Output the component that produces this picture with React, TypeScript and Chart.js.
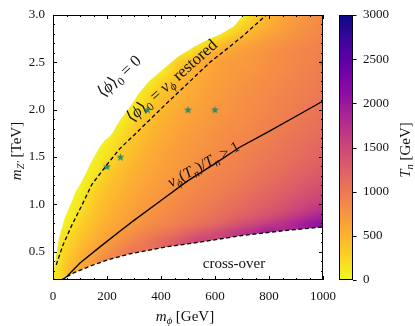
import React, { useEffect, useRef } from "react";
import { Chart, registerables } from "chart.js";

Chart.register(...registerables);

// ---------- data ----------
const xTickValues = [0, 200, 400, 600, 800, 1000];
const yTickValues = [0.5, 1.0, 1.5, 2.0, 2.5, 3.0];
const cbTickValues = [0, 500, 1000, 1500, 2000, 2500, 3000];

// T_n grid (GeV): columns m_phi = 0..1000 step 50, rows m_Z' = 3.0 .. 0.2 step 0.1
const gridMphi = [0, 50, 100, 150, 200, 250, 300, 350, 400, 450, 500, 550, 600, 650, 700, 750, 800, 850, 900, 950, 1000];
const gridMzp = [3.0, 2.9, 2.8, 2.7, 2.6, 2.5, 2.4, 2.3, 2.2, 2.1, 2.0, 1.9, 1.8, 1.7, 1.6, 1.5, 1.4, 1.3, 1.2, 1.1, 1.0, 0.9, 0.8, 0.7, 0.6, 0.5, 0.4, 0.3, 0.2];
const N = null;
const tnGrid: (number | null)[][] = [
  [N, N, N, N, N, N, N, N, N, N, N, N, N, N, 60, 330, 490, 610, 700, 780, 850],
  [N, N, N, N, N, N, N, N, N, N, N, N, N, 60, 230, 420, 540, 640, 720, 800, 870],
  [N, N, N, N, N, N, N, N, N, N, N, N, 60, 230, 400, 530, 630, 700, 770, 830, 890],
  [N, N, N, N, N, N, N, N, N, N, N, 120, 330, 480, 580, 650, 720, 780, 830, 870, 910],
  [N, N, N, N, N, N, N, N, N, N, 150, 400, 540, 620, 680, 730, 780, 830, 870, 910, 940],
  [N, N, N, N, N, N, N, N, 60, 250, 430, 560, 620, 680, 710, 740, 790, 830, 870, 910, 950],
  [N, N, N, N, N, N, N, N, 80, 330, 480, 580, 640, 690, 730, 760, 810, 850, 890, 930, 970],
  [N, N, N, N, N, N, N, 60, 250, 410, 520, 600, 660, 710, 750, 790, 830, 870, 910, 950, 990],
  [N, N, N, N, N, N, 60, 190, 360, 470, 550, 620, 680, 730, 770, 810, 850, 890, 930, 970, 1020],
  [N, N, N, N, N, N, 60, 260, 410, 510, 580, 640, 700, 750, 790, 830, 870, 910, 950, 990, 1040],
  [N, N, N, N, N, 60, 170, 340, 460, 540, 610, 665, 715, 760, 800, 840, 885, 930, 970, 1010, 1060],
  [N, N, N, N, N, 60, 250, 400, 500, 575, 635, 690, 740, 785, 825, 865, 905, 950, 995, 1040, 1090],
  [N, N, N, N, 60, 150, 320, 440, 530, 605, 665, 715, 765, 810, 850, 890, 935, 980, 1025, 1070, 1120],
  [N, N, N, N, 60, 220, 370, 480, 565, 635, 695, 745, 795, 840, 880, 920, 965, 1010, 1060, 1105, 1150],
  [N, N, N, 60, 120, 270, 420, 520, 600, 660, 715, 765, 815, 860, 905, 950, 995, 1040, 1090, 1140, 1190],
  [N, N, N, 60, 170, 330, 460, 550, 620, 685, 740, 790, 840, 885, 930, 975, 1020, 1070, 1120, 1170, 1220],
  [N, N, N, 70, 250, 400, 500, 580, 645, 705, 760, 810, 860, 905, 950, 1000, 1050, 1100, 1160, 1210, 1270],
  [N, N, 50, 130, 330, 440, 530, 605, 675, 730, 790, 840, 890, 940, 990, 1040, 1090, 1150, 1210, 1270, 1330],
  [N, N, 30, 220, 380, 475, 565, 640, 700, 760, 820, 870, 920, 970, 1020, 1080, 1140, 1200, 1270, 1340, 1410],
  [N, 50, 80, 290, 415, 510, 600, 670, 740, 800, 860, 910, 960, 1020, 1080, 1140, 1200, 1270, 1350, 1430, 1500],
  [N, 50, 140, 340, 460, 550, 640, 710, 780, 840, 900, 950, 1010, 1070, 1130, 1200, 1270, 1350, 1440, 1530, 1620],
  [N, 20, 200, 380, 500, 590, 680, 750, 820, 880, 950, 1010, 1070, 1140, 1210, 1290, 1370, 1470, 1580, 1700, 1830],
  [N, 80, 270, 430, 540, 630, 720, 800, 870, 940, 1010, 1080, 1160, 1260, 1380, 1480, 1600, 1720, 1850, 1980, 2100],
  [50, 160, 340, 470, 600, 710, 810, 910, 1000, 1090, 1200, 1320, 1430, 1550, 1680, 1800, 1950, N, N, N, N],
  [50, 220, 400, 540, 680, 800, 920, 1030, 1150, 1280, 1420, 1560, N, N, N, N, N, N, N, N, N],
  [50, 280, 470, 630, 780, 920, 1050, N, N, N, N, N, N, N, N, N, N, N, N, N, N],
  [40, 340, 530, 700, 900, N, N, N, N, N, N, N, N, N, N, N, N, N, N, N, N],
  [80, 400, 620, N, N, N, N, N, N, N, N, N, N, N, N, N, N, N, N, N, N],
  [120, N, N, N, N, N, N, N, N, N, N, N, N, N, N, N, N, N, N, N, N],
];

// upper edge of the first-order region
const edgeMphi = [0, 0, 7, 15, 22, 33, 44, 56, 70, 81, 100, 119, 137, 156, 174, 193, 211, 222, 248, 278, 315, 352, 404, 463, 526, 574, 622, 670, 705];
const edgeMzp = [0.2, 0.25, 0.39, 0.52, 0.64, 0.75, 0.86, 0.94, 1.03, 1.12, 1.21, 1.31, 1.42, 1.52, 1.61, 1.68, 1.72, 1.76, 1.89, 2.0, 2.16, 2.29, 2.42, 2.56, 2.67, 2.74, 2.8, 2.88, 3.0];

// <phi>_0 = v_phi restored (dashed)
const restoredMphi = [12, 37, 70, 107, 144, 200, 248, 300, 350, 415, 500, 581, 626, 700, 790];
const restoredMzp = [0.36, 0.57, 0.78, 0.99, 1.21, 1.42, 1.59, 1.73, 1.87, 2.05, 2.28, 2.5, 2.6, 2.77, 3.0];

// v_phi(T_n)/T_n = 1 (solid)
const vevMphi = [40, 52, 100, 174, 250, 300, 400, 500, 600, 690, 800, 900, 1000];
const vevMzp = [0.21, 0.24, 0.38, 0.55, 0.72, 0.83, 1.04, 1.25, 1.43, 1.6, 1.77, 1.93, 2.09];

// cross-over boundary (dashed)
const crossMphi = [30, 80, 140, 211, 290, 420, 544, 700, 850, 1000];
const crossMzp = [0.2, 0.28, 0.35, 0.42, 0.48, 0.55, 0.6, 0.67, 0.72, 0.76];

// benchmark stars
const starMphi = [200, 250, 350, 500, 600, 1000];
const starMzp = [1.4, 1.5, 2.0, 2.0, 2.0, 2.5];

// ---------- styling ----------
const FONT = "'Liberation Serif', 'DejaVu Serif', serif";
const TEXT = "#111";
const STAR_COLOR = "#2b8a6c";
const PLASMA = ["#0d0887", "#41049d", "#6a00a8", "#8f0da4", "#b12a90", "#cc4778", "#e16462", "#f2844b", "#fca636", "#fcce25", "#f0f921"];

function hexRgb(h: string): number[] {
  return [parseInt(h.slice(1, 3), 16), parseInt(h.slice(3, 5), 16), parseInt(h.slice(5, 7), 16)];
}
const PLASMA_RGB = PLASMA.map(hexRgb);
function plasma(t: number): number[] {
  const tt = Math.max(0, Math.min(1, t)) * (PLASMA_RGB.length - 1);
  const i = Math.min(Math.floor(tt), PLASMA_RGB.length - 2);
  const f = tt - i;
  const a = PLASMA_RGB[i], b = PLASMA_RGB[i + 1];
  return [0, 1, 2].map((k) => Math.round(a[k] + (b[k] - a[k]) * f));
}
function tnRgb(v: number): number[] {
  return plasma(1 - v / 3000);
}

function buildHeatImage(): HTMLCanvasElement {
  const ny = gridMzp.length, nx = gridMphi.length;
  let g: (number | null)[][] = tnGrid.map((r) => r.slice());
  // edge padding for rendering only (cells outside the region are clipped away)
  for (let pass = 0; pass < 60; pass++) {
    let changed = false;
    const ng = g.map((r) => r.slice());
    for (let j = 0; j < ny; j++) {
      for (let i = 0; i < nx; i++) {
        if (g[j][i] !== null) continue;
        let s = 0, c = 0;
        const nb = [[j - 1, i], [j + 1, i], [j, i - 1], [j, i + 1]];
        for (const [a, b] of nb) {
          if (a >= 0 && a < ny && b >= 0 && b < nx && g[a][b] !== null) {
            s += g[a][b] as number;
            c++;
          }
        }
        if (c > 0) {
          ng[j][i] = s / c;
          changed = true;
        }
      }
    }
    g = ng;
    if (!changed) break;
  }
  const cv = document.createElement("canvas");
  cv.width = nx;
  cv.height = ny;
  const cx = cv.getContext("2d")!;
  const img = cx.createImageData(nx, ny);
  for (let j = 0; j < ny; j++) {
    for (let i = 0; i < nx; i++) {
      const v = g[j][i] ?? 0;
      const [r, gg, b] = tnRgb(v);
      const o = (j * nx + i) * 4;
      img.data[o] = r;
      img.data[o + 1] = gg;
      img.data[o + 2] = b;
      img.data[o + 3] = 255;
    }
  }
  cx.putImageData(img, 0, 0);
  return cv;
}

function makeStar(r: number, color: string): HTMLCanvasElement {
  const s = Math.ceil(r * 2 + 2);
  const c = document.createElement("canvas");
  c.width = s;
  c.height = s;
  const x = c.getContext("2d")!;
  x.translate(s / 2, s / 2 + 0.4);
  x.beginPath();
  for (let k = 0; k < 10; k++) {
    const rr = k % 2 === 0 ? r : r * 0.42;
    const a = -Math.PI / 2 + (k * Math.PI) / 5;
    const px = rr * Math.cos(a), py = rr * Math.sin(a);
    if (k === 0) x.moveTo(px, py);
    else x.lineTo(px, py);
  }
  x.closePath();
  x.fillStyle = color;
  x.fill();
  return c;
}

type Seg = { t: string; it?: boolean; sub?: boolean };
function drawRich(ctx: CanvasRenderingContext2D, segs: Seg[], cx: number, cy: number, angle: number, size: number) {
  const fontFor = (s: Seg) => `${s.it ? "italic " : ""}${s.sub ? (size * 0.7).toFixed(1) : size}px ${FONT}`;
  ctx.save();
  ctx.translate(cx, cy);
  ctx.rotate(angle);
  let w = 0;
  for (const s of segs) {
    ctx.font = fontFor(s);
    w += ctx.measureText(s.t).width;
  }
  let x = -w / 2;
  ctx.textBaseline = "alphabetic";
  ctx.textAlign = "left";
  ctx.fillStyle = TEXT;
  const base = size * 0.33;
  for (const s of segs) {
    ctx.font = fontFor(s);
    ctx.fillText(s.t, x, base + (s.sub ? size * 0.22 : 0));
    x += ctx.measureText(s.t).width;
  }
  ctx.restore();
}

const heatPlugin = (img: HTMLCanvasElement) => ({
  id: "heat",
  beforeDatasetsDraw(chart: any) {
    const { ctx, chartArea: ca } = chart;
    const xs = chart.scales.x, ys = chart.scales.y;
    ctx.save();
    ctx.beginPath();
    ctx.rect(ca.left, ca.top, ca.right - ca.left, ca.bottom - ca.top);
    ctx.clip();
    ctx.beginPath();
    edgeMphi.forEach((m, i) => {
      const px = xs.getPixelForValue(m), py = ys.getPixelForValue(edgeMzp[i]);
      if (i === 0) ctx.moveTo(px, py);
      else ctx.lineTo(px, py);
    });
    ctx.lineTo(xs.getPixelForValue(1000), ys.getPixelForValue(3.0));
    for (let i = crossMphi.length - 1; i >= 0; i--) {
      ctx.lineTo(xs.getPixelForValue(crossMphi[i]), ys.getPixelForValue(crossMzp[i]));
    }
    ctx.closePath();
    ctx.clip();
    const dx = (gridMphi[1] - gridMphi[0]) / 2;
    const dy = (gridMzp[0] - gridMzp[1]) / 2;
    const x0 = xs.getPixelForValue(gridMphi[0] - dx);
    const x1 = xs.getPixelForValue(gridMphi[gridMphi.length - 1] + dx);
    const y0 = ys.getPixelForValue(gridMzp[0] + dy);
    const y1 = ys.getPixelForValue(gridMzp[gridMzp.length - 1] - dy);
    ctx.imageSmoothingEnabled = true;
    (ctx as any).imageSmoothingQuality = "high";
    ctx.drawImage(img, x0, y0, x1 - x0, y1 - y0);
    ctx.restore();

    // in-plot annotations (under lines and stars)
    const deg = Math.PI / 180;
    drawRich(ctx, [{ t: "\u27E8" }, { t: "\u03D5", it: true }, { t: "\u27E9" }, { t: "0", sub: true }, { t: " = 0" }], 119, 76, -43 * deg, 16.5);
    drawRich(
      ctx,
      [{ t: "\u27E8" }, { t: "\u03D5", it: true }, { t: "\u27E9" }, { t: "0", sub: true }, { t: " = " }, { t: "v", it: true }, { t: "\u03D5", it: true, sub: true }, { t: " restored" }],
      171.5,
      80.5,
      -41.6 * deg,
      16.5
    );
    drawRich(
      ctx,
      [{ t: "v", it: true }, { t: "\u03D5", it: true, sub: true }, { t: "(" }, { t: "T", it: true }, { t: "n", it: true, sub: true }, { t: ")/" }, { t: "T", it: true }, { t: "n", it: true, sub: true }, { t: " > 1" }],
      203.5,
      164,
      -28.6 * deg,
      15.5
    );
    drawRich(ctx, [{ t: "cross-over" }], 234, 263, 0, 15);
  },
});

const decorPlugin = {
  id: "decor",
  afterDraw(chart: any) {
    const { ctx, chartArea: ca } = chart;
    const xs = chart.scales.x, ys = chart.scales.y, cs = chart.scales.cb;
    ctx.save();
    ctx.strokeStyle = "#000";
    ctx.lineWidth = 1;
    ctx.beginPath();
    // x ticks (inward, both sides)
    for (let v = 0; v <= 1000; v += 50) {
      const major = xTickValues.includes(v);
      const len = major ? 4 : 2;
      const px = Math.round(xs.getPixelForValue(v)) + 0.5;
      ctx.moveTo(px, ca.bottom);
      ctx.lineTo(px, ca.bottom - len);
      ctx.moveTo(px, ca.top);
      ctx.lineTo(px, ca.top + len);
    }
    for (let k = 3; k <= 30; k++) {
      const v = k / 10;
      const major = yTickValues.some((t) => Math.abs(t - v) < 1e-6);
      const len = major ? 4 : 2;
      const py = Math.round(ys.getPixelForValue(v)) + 0.5;
      ctx.moveTo(ca.left, py);
      ctx.lineTo(ca.left + len, py);
      ctx.moveTo(ca.right, py);
      ctx.lineTo(ca.right - len, py);
    }
    ctx.stroke();
    ctx.strokeRect(ca.left + 0.5, ca.top + 0.5, ca.right - ca.left - 1, ca.bottom - ca.top - 1);

    // colorbar
    const cbL = ca.right + 16, cbW = 14;
    const top = cs.getPixelForValue(3000), bot = cs.getPixelForValue(0);
    const grad = ctx.createLinearGradient(0, bot, 0, top);
    for (let k = 0; k <= 20; k++) {
      const s = k / 20;
      const [r, g, b] = tnRgb(s * 3000);
      grad.addColorStop(s, `rgb(${r},${g},${b})`);
    }
    ctx.fillStyle = grad;
    ctx.fillRect(cbL, top, cbW, bot - top);
    ctx.strokeRect(cbL + 0.5, top + 0.5, cbW - 1, bot - top - 1);
    ctx.beginPath();
    for (const v of cbTickValues) {
      const py = Math.round(cs.getPixelForValue(v)) + 0.5;
      ctx.moveTo(cbL + cbW, py);
      ctx.lineTo(cbL + cbW + 3.5, py);
    }
    ctx.stroke();
    ctx.restore();

    // axis titles
    drawRich(ctx, [{ t: "m", it: true }, { t: "\u03D5", it: true, sub: true }, { t: " [GeV]" }], 185, 316, 0, 15);
    drawRich(ctx, [{ t: "m", it: true }, { t: "Z\u2032", it: true, sub: true }, { t: " [TeV]" }], 16, 151, -Math.PI / 2, 15);
    drawRich(ctx, [{ t: "T", it: true }, { t: "n", it: true, sub: true }, { t: " [GeV]" }], 405, 150, -Math.PI / 2, 15);
  },
};

export default function App() {
  const ref = useRef<HTMLCanvasElement>(null);
  useEffect(() => {
    document.body.style.margin = "0";
    const canvas = ref.current!;
    const heat = buildHeatImage();
    const star = makeStar(4.2, STAR_COLOR);
    const tickFont = { family: FONT, size: 13 };
    const lineDs = (xs: number[], ys: number[], dash: number[]) => ({
      data: xs.map((x, i) => ({ x, y: ys[i] })),
      showLine: true,
      borderColor: "#000",
      borderWidth: 1.3,
      borderDash: dash,
      pointRadius: 0,
      fill: false,
      tension: 0,
    });
    const chart = new Chart(canvas, {
      type: "scatter",
      data: {
        datasets: [
          lineDs(restoredMphi, restoredMzp, [4, 2.6]) as any,
          lineDs(vevMphi, vevMzp, []) as any,
          lineDs(crossMphi, crossMzp, [4, 2.6]) as any,
          {
            data: starMphi.map((x, i) => ({ x, y: starMzp[i] })),
            pointStyle: star as any,
            pointRadius: 4,
            showLine: false,
            clip: 0,
          } as any,
        ],
      },
      options: {
        responsive: false,
        devicePixelRatio: 1,
        animation: false,
        layout: { padding: { top: 15, left: 0, right: 0, bottom: 0 } },
        plugins: { legend: { display: false }, tooltip: { enabled: false } },
        events: [],
        scales: {
          x: {
            type: "linear",
            position: "bottom",
            min: 0,
            max: 1000,
            grid: { display: false, drawTicks: false, tickLength: 0 },
            border: { display: false },
            ticks: { font: tickFont, color: TEXT, padding: 9, maxRotation: 0, callback: (v: any) => String(v) },
            afterBuildTicks: (s: any) => {
              s.ticks = xTickValues.map((value) => ({ value }));
            },
            afterFit: (s: any) => {
              s.height = 46;
            },
          },
          y: {
            type: "linear",
            position: "left",
            min: 0.2,
            max: 3.0,
            grid: { display: false, drawTicks: true, tickLength: 5 },
            border: { display: false },
            ticks: { font: tickFont, color: TEXT, padding: 3, callback: (v: any) => Number(v).toFixed(1) },
            afterBuildTicks: (s: any) => {
              s.ticks = yTickValues.map((value) => ({ value }));
            },
            afterFit: (s: any) => {
              s.width = 53;
            },
          },
          cb: {
            type: "linear",
            axis: "y",
            position: "right",
            min: 0,
            max: 3000,
            grid: { display: false, drawTicks: true, tickLength: 37 },
            border: { display: false },
            ticks: { font: tickFont, color: TEXT, padding: 3, callback: (v: any) => String(v) },
            afterBuildTicks: (s: any) => {
              s.ticks = cbTickValues.map((value) => ({ value }));
            },
            afterFit: (s: any) => {
              s.width = 92;
            },
          },
        } as any,
      },
      plugins: [heatPlugin(heat), decorPlugin],
    });
    return () => chart.destroy();
  }, []);
  return (
    <div style={{ width: 415, height: 326 }}>
      <canvas ref={ref} width={415} height={326} style={{ display: "block", width: 415, height: 326 }} />
    </div>
  );
}
